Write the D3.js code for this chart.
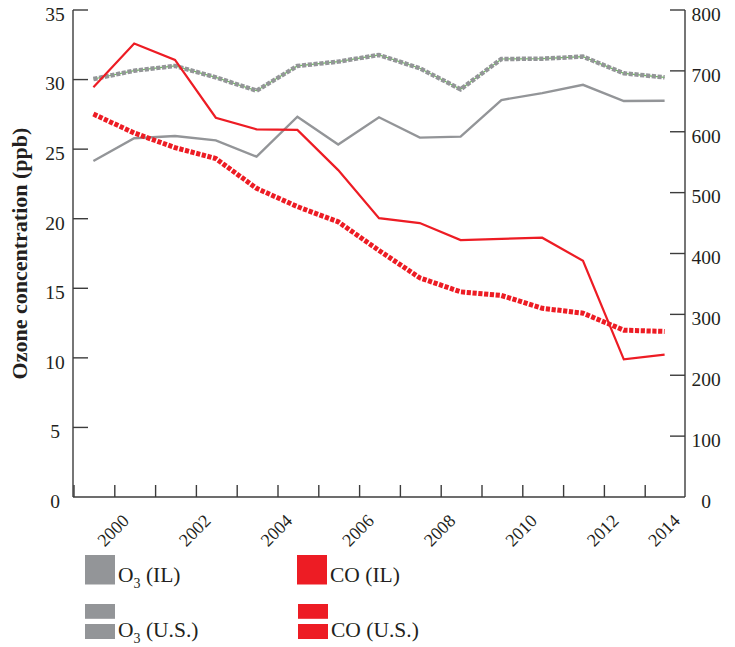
<!DOCTYPE html>
<html>
<head>
<meta charset="utf-8">
<script src="https://cdn.jsdelivr.net/npm/d3@7"></script>
<style>
  html, body { margin: 0; padding: 0; background: #fff; }
  svg { display: block; }
  text { font-family: "Liberation Serif", "Times New Roman", serif; fill: #231f20; }
</style>
</head>
<body>
<svg id="chart" width="735" height="647"></svg>
<script>
// ---- data ----
const years = [1999, 2000, 2001, 2002, 2003, 2004, 2005, 2006, 2007, 2008, 2009, 2010, 2011, 2012, 2013];
const o3IL  = [24.15, 25.78, 25.94, 25.63, 24.46, 27.33, 25.33, 27.29, 25.83, 25.90, 28.53, 29.03, 29.62, 28.46, 28.48];
const o3US  = [30.04, 30.64, 30.98, 30.16, 29.20, 30.98, 31.29, 31.77, 30.81, 29.30, 31.48, 31.50, 31.65, 30.45, 30.16];
const coIL  = [673, 745, 718, 623, 604, 603, 537, 458, 450, 422, 424, 426, 388, 226, 234];
const coUS  = [629, 598, 574, 556, 507, 477, 452, 405, 360, 337, 331, 310, 302, 274, 272];
const leftTicks  = [0, 5, 10, 15, 20, 25, 30, 35];
const rightTicks = [0, 100, 200, 300, 400, 500, 600, 700, 800];
const xLabels = [2000, 2002, 2004, 2006, 2008, 2010, 2012, 2014];
const yTitle = "Ozone concentration (ppb)";

const GRAY = "#939598", RED = "#ed1c24", GREEN = "#6cbf5a", AXIS = "#3c3c3c";

// ---- layout ----
const L = 73, R = 685, T = 10, B = 497;
const svg = d3.select("#chart");

const x = d3.scaleBand().domain(years).range([L, R]).paddingInner(0).paddingOuter(0);
const bw = x.bandwidth();
const cx = d => x(d) + bw / 2;
const xYear = d3.scaleLinear().domain([years[0] - 0.5, years[years.length - 1] + 0.5]).range([L, R]).clamp(true);
const yL = d3.scaleLinear().domain([0, 35]).range([B, T]);
const yR = d3.scaleLinear().domain([0, 800]).range([B, T]);

// ---- axes ----
const ax = svg.append("g").attr("stroke", AXIS).attr("stroke-width", 1.4).attr("fill", "none");
ax.append("line").attr("x1", L).attr("x2", L).attr("y1", T).attr("y2", B);
ax.append("line").attr("x1", R).attr("x2", R).attr("y1", T).attr("y2", B);
ax.append("line").attr("x1", L).attr("x2", R).attr("y1", B).attr("y2", B);

// left ticks (inward)
ax.selectAll(".lt").data(leftTicks.filter(d => d > 0)).join("line")
  .attr("x1", L).attr("x2", L + 15).attr("y1", d => yL(d)).attr("y2", d => yL(d));
// right ticks (inward)
ax.selectAll(".rt").data(rightTicks.filter(d => d > 0)).join("line")
  .attr("x1", R - 15).attr("x2", R).attr("y1", d => yR(d)).attr("y2", d => yR(d));
// bottom ticks at band boundaries
const bounds = d3.range(years.length + 1).map(i => years[0] - 0.5 + i);
ax.selectAll(".bt").data(bounds.slice(0, -1)).join("line")
  .attr("x1", d => xYear(d) + 1).attr("x2", d => xYear(d) + 1).attr("y1", B - 12).attr("y2", B);

// tick labels
svg.append("g").selectAll("text").data(leftTicks).join("text")
  .attr("x", 55).attr("y", d => yL(d) + 4).attr("dy", "0.35em")
  .attr("text-anchor", "middle").attr("font-size", 19.5).text(d => d);
svg.append("g").selectAll("text").data(rightTicks).join("text")
  .attr("x", 706).attr("y", d => yR(d) + 4).attr("dy", "0.35em")
  .attr("text-anchor", "middle").attr("font-size", 19.5).text(d => d);
svg.append("g").selectAll("text").data(xLabels).join("text")
  .attr("text-anchor", "end").attr("font-size", 18)
  .attr("transform", d => `translate(${xYear(d) - 4},522) rotate(-45)`)
  .text(d => d);

// y title
svg.append("text")
  .attr("transform", `translate(27,${(T + B) / 2}) rotate(-90)`)
  .attr("text-anchor", "middle").attr("font-size", 22).attr("font-weight", "bold")
  .text(yTitle);

// ---- lines ----
const lineL = d3.line().x((d, i) => cx(years[i])).y(d => yL(d));
const lineR = d3.line().x((d, i) => cx(years[i])).y(d => yR(d));

// O3 U.S.: green thin core + gray dashes
svg.append("path").datum(o3US).attr("d", lineL).attr("fill", "none")
  .attr("stroke", GREEN).attr("stroke-width", 1.2);
svg.append("path").datum(o3US).attr("d", lineL).attr("fill", "none")
  .attr("stroke", GRAY).attr("stroke-width", 4.5).attr("stroke-dasharray", "4.2,1.6");
// O3 IL
svg.append("path").datum(o3IL).attr("d", lineL).attr("fill", "none")
  .attr("stroke", GRAY).attr("stroke-width", 2.4);
// CO U.S. dotted
svg.append("path").datum(coUS).attr("d", lineR).attr("fill", "none")
  .attr("stroke", RED).attr("stroke-width", 5).attr("stroke-dasharray", "4.2,1.6");
// CO IL
svg.append("path").datum(coIL).attr("d", lineR).attr("fill", "none")
  .attr("stroke", RED).attr("stroke-width", 2.2);

// ---- legend ----
const legend = [
  {label: "O", sub: "3", rest: " (IL)", color: GRAY, dotted: false, x: 85, y: 555},
  {label: "O", sub: "3", rest: " (U.S.)", color: GRAY, dotted: true, x: 85, y: 604},
  {label: "CO", sub: "", rest: " (IL)", color: RED, dotted: false, x: 297, y: 555},
  {label: "CO", sub: "", rest: " (U.S.)", color: RED, dotted: true, x: 298, y: 604}
];
const lg = svg.append("g");
legend.forEach(d => {
  if (!d.dotted) {
    lg.append("rect").attr("x", d.x).attr("y", d.y).attr("width", 30).attr("height", 29.5).attr("fill", d.color);
  } else {
    lg.append("rect").attr("x", d.x).attr("y", d.y).attr("width", 30).attr("height", 14.8).attr("fill", d.color);
    lg.append("rect").attr("x", d.x).attr("y", d.y + 20).attr("width", 30).attr("height", 15).attr("fill", d.color);
  }
  const baseY = d.dotted ? d.y + 33 : d.y + 27;
  const t = lg.append("text").attr("x", d.x + 33).attr("y", baseY).attr("font-size", 21.5);
  t.append("tspan").text(d.label);
  if (d.sub) {
    t.append("tspan").attr("font-size", 14).attr("dy", 6).text(d.sub);
    t.append("tspan").attr("dy", -6).text(d.rest);
  } else {
    t.append("tspan").text(d.rest);
  }
});
</script>
</body>
</html>
